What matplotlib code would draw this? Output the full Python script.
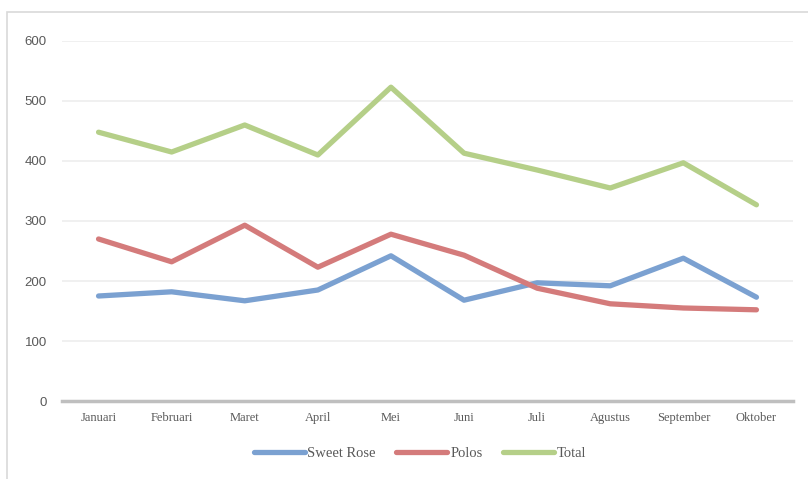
import matplotlib.pyplot as plt
from matplotlib.patches import Rectangle

# Data
months = ["Januari", "Februari", "Maret", "April", "Mei", "Juni",
          "Juli", "Agustus", "September", "Oktober"]
sweet_rose = [175, 182, 167, 185, 242, 168, 197, 192, 238, 173]
polos = [270, 232, 293, 223, 278, 243, 188, 162, 155, 152]
total = [448, 415, 460, 410, 523, 413, 385, 355, 397, 327]
y_ticks = [0, 100, 200, 300, 400, 500, 600]

plt.rcParams['font.family'] = ['Liberation Serif', 'DejaVu Serif']

fig = plt.figure(figsize=(8.08, 4.79), dpi=100)
# outer chart frame
fig.patches.append(Rectangle((7 / 808, -0.1), 1.0, 1 - 12 / 479 + 0.1,
                             transform=fig.transFigure, fill=False,
                             edgecolor='#D9D9D9', linewidth=1.2))

ax = fig.add_axes([62 / 808, 1 - 401 / 479, 731 / 808, 360 / 479])
x = range(len(months))
ax.plot(x, sweet_rose, color='#7BA1D1', lw=3.8, label='Sweet Rose',
        solid_capstyle='round', solid_joinstyle='round', clip_on=False, zorder=3)
ax.plot(x, polos, color='#D47B7B', lw=3.8, label='Polos',
        solid_capstyle='round', solid_joinstyle='round', clip_on=False, zorder=3)
ax.plot(x, total, color='#B5CF88', lw=3.8, label='Total',
        solid_capstyle='round', solid_joinstyle='round', clip_on=False, zorder=3)

ax.set_xlim(-0.5, len(months) - 0.5)
ax.set_ylim(0, 600)
ax.set_yticks(y_ticks)
ax.set_yticklabels([str(t) for t in y_ticks], fontsize=9.5, color='#595959',
                   family=['Liberation Sans Narrow', 'Liberation Sans', 'DejaVu Sans'])
ax.set_xticks(list(x))
ax.set_xticklabels(months, fontsize=9, color='#595959')
ax.tick_params(axis='both', length=0)
ax.tick_params(axis='y', pad=11)
ax.tick_params(axis='x', pad=8)
ax.grid(axis='y', color='#EFEFEF', lw=1.3)
ax.set_axisbelow(True)
for s in ['top', 'right', 'left']:
    ax.spines[s].set_visible(False)
ax.spines['bottom'].set_color('#BFBFBF')
ax.spines['bottom'].set_linewidth(2.5)

fig.legend(loc='center', bbox_to_anchor=(420 / 808, 1 - 453 / 479), ncol=3,
           frameon=False, fontsize=10.5, handlelength=3.5, columnspacing=1.4,
           handletextpad=0.2, labelcolor='#595959')

fig.savefig('out.png', dpi=100)
